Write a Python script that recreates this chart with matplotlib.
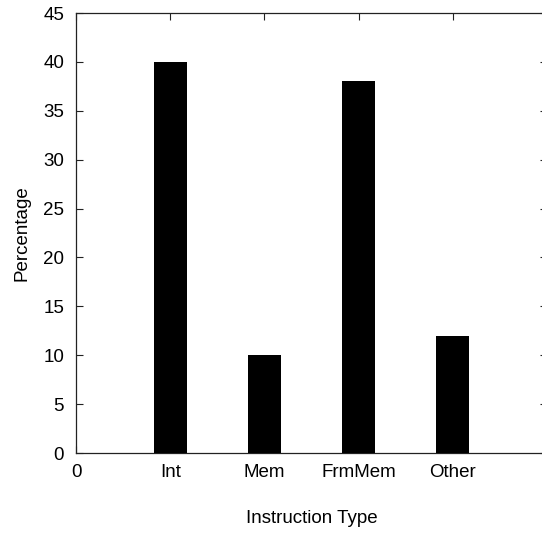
import matplotlib
matplotlib.use("Agg")
import matplotlib.pyplot as plt

categories = ["Int", "Mem", "FrmMem", "Other"]
percentages = [40, 10, 38, 12]
positions = [1, 2, 3, 4]
y_ticks = [0, 5, 10, 15, 20, 25, 30, 35, 40, 45]

plt.rcParams["font.family"] = ["Liberation Sans", "DejaVu Sans"]

W, H = 542, 535
fig = plt.figure(figsize=(W / 100, H / 100), dpi=100)
# plot frame runs slightly past the right edge of the canvas
left, right, bottom, top = 76, 547, 453, 13
ax = fig.add_axes([left / W, (H - bottom) / H, (right - left) / W, (bottom - top) / H])

ax.bar(positions, percentages, width=0.35, color="black", zorder=3)

ax.set_xlim(0, 5)
ax.set_ylim(0, 45)
ax.set_xticks([0] + positions)
ax.set_xticklabels(["0"] + categories)
ax.set_yticks(y_ticks)

ax.tick_params(axis="both", direction="in", length=5, width=0.8,
               top=True, right=True, labelsize=13.5, color="#222222")
ax.tick_params(axis="x", pad=8)
ax.tick_params(axis="y", pad=8.5)
for s in ax.spines.values():
    s.set_linewidth(0.9)
    s.set_color("#222222")

ax.set_xlabel("Instruction Type", fontsize=13.5, labelpad=21)
ax.set_ylabel("Percentage", fontsize=13.5, labelpad=9)

fig.savefig("out.png", dpi=100)
